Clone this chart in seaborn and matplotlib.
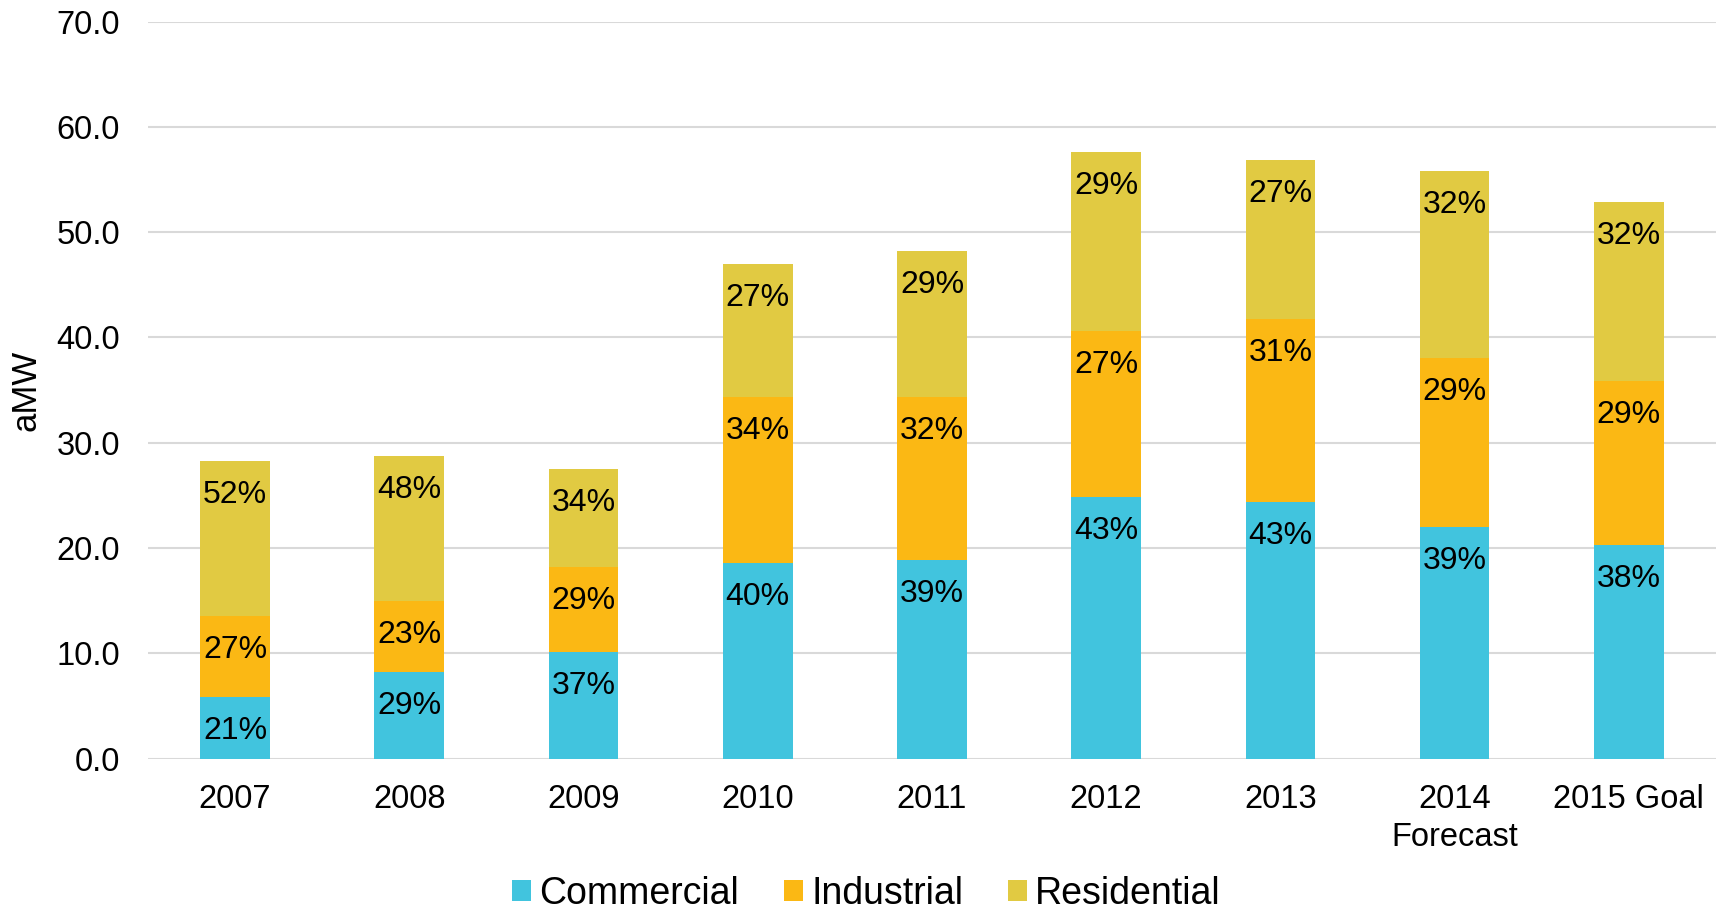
import matplotlib
matplotlib.use("Agg")
import matplotlib.pyplot as plt
from matplotlib.patches import Patch
import numpy as np
import pandas as pd
import seaborn as sns

# Energy savings by sector (aMW)
years = ["2007", "2008", "2009", "2010", "2011", "2012", "2013",
         "2014\nForecast", "2015 Goal"]
commercial = [5.85, 8.26, 10.16, 18.58, 18.90, 24.85, 24.35, 21.97, 20.29]
industrial = [7.72, 6.72, 8.02, 15.80, 15.48, 15.80, 17.41, 16.11, 15.55]
residential = [14.67, 13.77, 9.30, 12.59, 13.83, 16.95, 15.14, 17.70, 17.03]

series_names = ["Commercial", "Industrial", "Residential"]
series_colors = ["#41C4DE", "#FBB814", "#E1CA42"]

sns.set_theme(style="white")
plt.rcParams["font.family"] = ["Liberation Sans", "DejaVu Sans"]
plt.rcParams["text.color"] = "black"
plt.rcParams["axes.labelcolor"] = "black"
plt.rcParams["xtick.color"] = "black"
plt.rcParams["ytick.color"] = "black"

df = pd.DataFrame({
    "year": years,
    "Commercial": commercial,
    "Industrial": industrial,
    "Residential": residential,
})
df["top_com"] = df["Commercial"]
df["top_ind"] = df["Commercial"] + df["Industrial"]
df["top_res"] = df["top_ind"] + df["Residential"]

fig = plt.figure(figsize=(17.23, 9.13), dpi=100)
ax = fig.add_axes([0.0859, 0.169, 0.91, 0.8074])

# Stacked bars drawn as overlapping cumulative totals
for col, color in zip(["top_res", "top_ind", "top_com"], series_colors[::-1]):
    sns.barplot(data=df, x="year", y=col, color=color, width=0.4,
                saturation=1, linewidth=0, ax=ax, zorder=3)

# Percentage labels near the top of each segment
for i in range(len(years)):
    total = df["top_res"][i]
    for name, topcol in zip(series_names, ["top_com", "top_ind", "top_res"]):
        pct = df[name][i] / total * 100
        ax.annotate(f"{pct:.0f}%", xy=(i, df[topcol][i]),
                    xytext=(0, -24.5), textcoords="offset points",
                    ha="center", va="center", fontsize=23,
                    color="black", zorder=5)

ax.set_ylim(0, 70)
ax.set_xlim(-0.5, len(years) - 0.5)
ax.set_yticks(np.arange(0, 71, 10))
ax.set_yticklabels([f"{v:.1f}" for v in np.arange(0, 71, 10)])
ax.yaxis.grid(True, color="#D9D9D9", linewidth=1.5, zorder=0)
ax.xaxis.grid(False)
for s in ax.spines.values():
    s.set_visible(False)
ax.tick_params(axis="y", length=0, pad=20, labelsize=23.5)
ax.tick_params(axis="x", length=0, pad=18, labelsize=23.5)
for lab in ax.get_xticklabels():
    lab.set_linespacing(1.3)
ax.set_xlabel("")
ax.set_ylabel("aMW", fontsize=25, labelpad=10)

handles = [Patch(facecolor=c, edgecolor="none", label=n)
           for n, c in zip(series_names, series_colors)]
fig.legend(handles=handles, loc="center", bbox_to_anchor=(0.503, 0.021),
           ncol=3, frameon=False, fontsize=27, handlelength=0.5,
           handleheight=0.5, handletextpad=0.22, columnspacing=1.2,
           borderpad=0.1)

fig.savefig("out.png", dpi=100)
